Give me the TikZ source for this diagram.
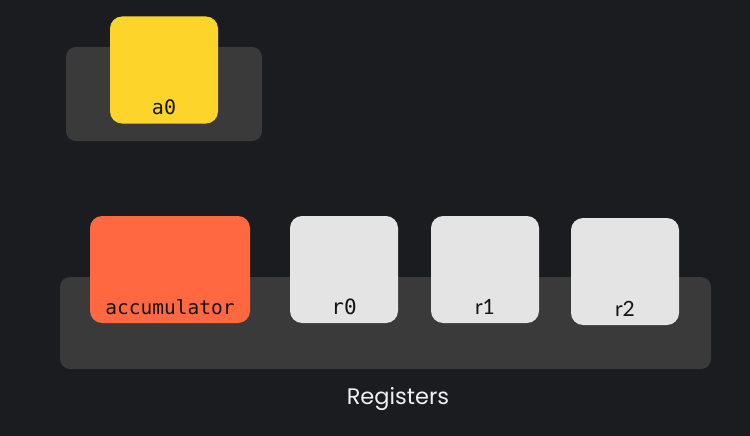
\documentclass[tikz,border=0pt]{standalone}
\usepackage{fontspec}
\setsansfont{Poppins}
\setmonofont{DejaVu Sans Mono}
\newfontfamily\lblsans{Lato}
\usepackage{tikz}
\usetikzlibrary{positioning}

\definecolor{bgc}{HTML}{1B1C20}
\definecolor{trayc}{HTML}{3A3A3B}
\definecolor{regc}{HTML}{E4E4E5}
\definecolor{accc}{HTML}{FF6840}
\definecolor{ac0c}{HTML}{FDD52A}
\definecolor{lblc}{HTML}{141414}

\begin{document}
\begin{tikzpicture}[x=1pt,y=-1pt,
  tray/.style={fill=trayc,rounded corners=10pt,inner sep=0pt},
  reg/.style={fill=regc,rounded corners=12pt,inner sep=0pt,minimum width=108pt,minimum height=107pt},
  lbl/.style={anchor=base,inner sep=0pt,text=lblc,font=\fontsize{19}{19}\selectfont}]
  % Background
  \fill[bgc] (0,0) rectangle (750,436);

  % Trays
  \node[tray,minimum width=196pt,minimum height=94pt] (a0tray) at (164,94) {};
  \node[tray,minimum width=651pt,minimum height=92pt] (regtray) at (385.5,323) {};

  % a0
  \node[reg,fill=ac0c] (a0) at (164,70) {};
  \node[lbl,font=\ttfamily\fontsize{20}{20}\selectfont] (a0lbl) at ([yshift=9pt]a0.south) {a0};

  % accumulator
  \node[reg,fill=accc,minimum width=160pt] (acc) at (170,269.5) {};
  \node[lbl,font=\ttfamily\fontsize{19.5}{19.5}\selectfont] (acclbl) at ([yshift=9pt]acc.south) {accumulator};

  % Registers r0..r2
  \foreach \n/\x/\y/\f in {r0/344/269.5/\ttfamily, r1/485/269.5/\lblsans, r2/625/271.5/\lblsans} {
    \node[reg] (\n) at (\x,\y) {};
    \node[lbl,font=\f\fontsize{21}{21}\selectfont] (\n lbl) at ([yshift=9pt]\n.south) {\n};
  }

  \node[anchor=base,inner sep=0pt,text=white!94!black,font=\sffamily\fontsize{22.5}{22.5}\selectfont] (regtitle) at (398,404) {Registers};
\end{tikzpicture}
\end{document}
